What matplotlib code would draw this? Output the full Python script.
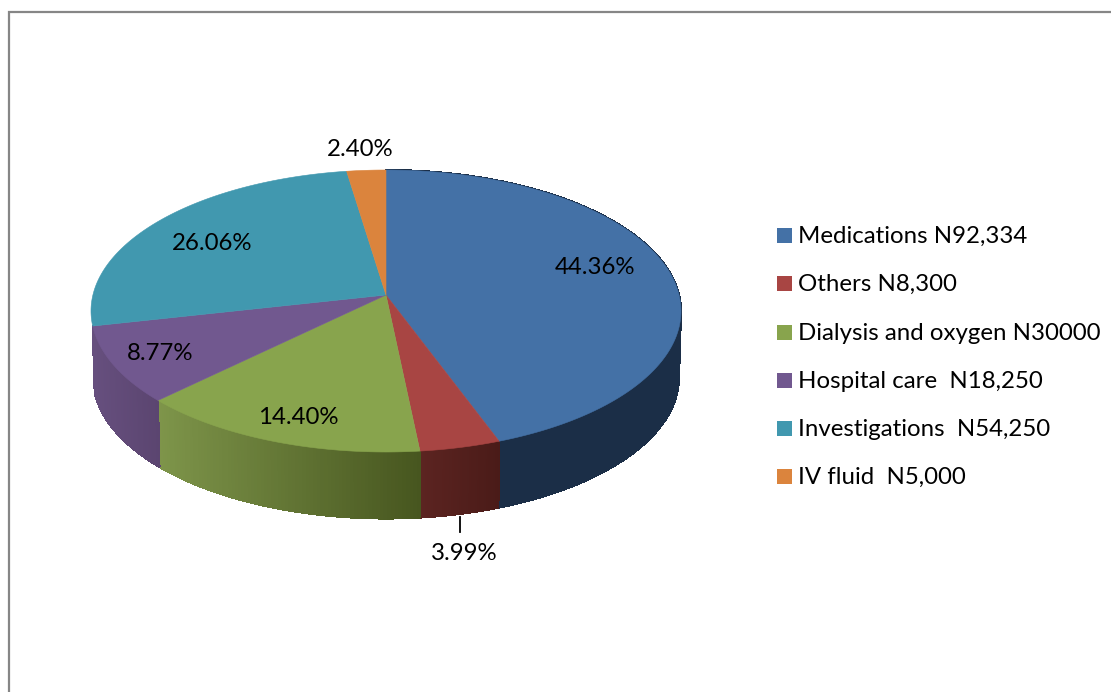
import numpy as np
import matplotlib
matplotlib.use("Agg")
import matplotlib.pyplot as plt
from matplotlib.colors import to_rgb

# Kosten je Posten (Naira)
names = ["Medications N92,334", "Others N8,300", "Dialysis and oxygen N30000",
         "Hospital care  N18,250", "Investigations  N54,250", "IV fluid  N5,000"]
costs = [92334, 8300, 30000, 18250, 54250, 5000]
pct_labels = ["44.36%", "3.99%", "14.40%", "8.77%", "26.06%", "2.40%"]

top_colors = ["#4471A6", "#A84543", "#88A44D", "#71588F", "#4198AF", "#DB843D"]
side_left = ["#1B2E47", "#5C2421", "#7E954A", "#664F7E", "#4198AF", "#DB843D"]
side_right = ["#1B2E47", "#4A1B18", "#47561F", "#5B4570", "#4198AF", "#DB843D"]
label_pos = [(595, 267), (464, 553), (298, 417), (160, 354), (212, 244), (360, 150)]

# Geometrie der Torte in Pixeln
cx, cy, rx, ry = 386, 311, 295, 141
apex_y = 295
bx, by, bry = 293, 377.5, 141

plt.rcParams['font.family'] = ['Lato', 'DejaVu Sans']
fig = plt.figure(figsize=(11.11, 6.92), dpi=100)
ax = fig.add_axes([0, 0, 1, 1])
ax.set_xlim(0, 1111)
ax.set_ylim(692, 0)
ax.axis('off')


def rim(theta):
    # Strahl von der Spitze zum Rand der Ellipse, gibt den Ellipsenwinkel zurueck
    dx = np.sin(theta)
    dy = -np.cos(theta) * ry
    off = apex_y - cy
    a = dx**2 + (dy / ry)**2
    b = 2 * dy * off / ry**2
    c = (off / ry)**2 - 1
    t = (-b + np.sqrt(b**2 - 4 * a * c)) / (2 * a)
    return np.arctan2(dx * t, -(off + dy * t) / ry)


def mix(c1, c2, f):
    c1, c2 = np.array(to_rgb(c1)), np.array(to_rgb(c2))
    return tuple(c1 + (c2 - c1) * f)


shares = np.array(costs) / np.sum(costs)
edges = np.concatenate([[0], np.cumsum(shares)]) * 2 * np.pi

# erst die Seitenwand
for i in range(len(costs)):
    th = np.linspace(edges[i], edges[i + 1], 80)
    phi = np.array([rim(t) for t in th])
    front = np.sin(phi - np.pi / 2) > -0.02
    if i in (4, 5) or not front.any():
        continue
    px = cx + rx * np.sin(phi)
    py = cy - ry * np.cos(phi)
    qx = cx + bx * np.sin(phi)
    qy = by - bry * np.cos(phi)
    x_lo, x_hi = px.min(), px.max()
    for j in range(len(th) - 1):
        f = (px[j] - x_lo) / (x_hi - x_lo)
        col = mix(side_left[i], side_right[i], f)
        ax.fill([px[j], px[j + 1], qx[j + 1], qx[j]],
                [py[j], py[j + 1], qy[j + 1], qy[j]],
                color=col, lw=0.8, antialiased=False, zorder=1)

# dann die Oberseite
for i in range(len(costs)):
    th = np.linspace(edges[i], edges[i + 1], 200)
    phi = np.array([rim(t) for t in th])
    xs = np.concatenate([[cx], cx + rx * np.sin(phi)])
    ys = np.concatenate([[apex_y], cy - ry * np.cos(phi)])
    ax.fill(xs, ys, color=top_colors[i], lw=0.4, zorder=2)

for txt, (x, y) in zip(pct_labels, label_pos):
    ax.text(x, y, txt, fontsize=17.3, color='black', ha='center', va='center', zorder=5)

# Fuehrungslinie zu 3.99%
ax.plot([460, 460], [517, 532], color='black', lw=1.3, zorder=3)

# Legende
leg_y = [235, 283, 332, 380, 428, 476]
for name, col, y in zip(names, top_colors, leg_y):
    ax.fill([777, 792, 792, 777], [y - 7.5, y - 7.5, y + 7.5, y + 7.5], color=col, lw=0)
    ax.text(798, y + 1.5, name, fontsize=17.3, color='black', ha='left', va='center')

# Rahmen
ax.plot([9, 9, 1111], [692, 12, 12], color='#868686', lw=1.6, solid_joinstyle='miter')

plt.savefig('out.png', dpi=100)
